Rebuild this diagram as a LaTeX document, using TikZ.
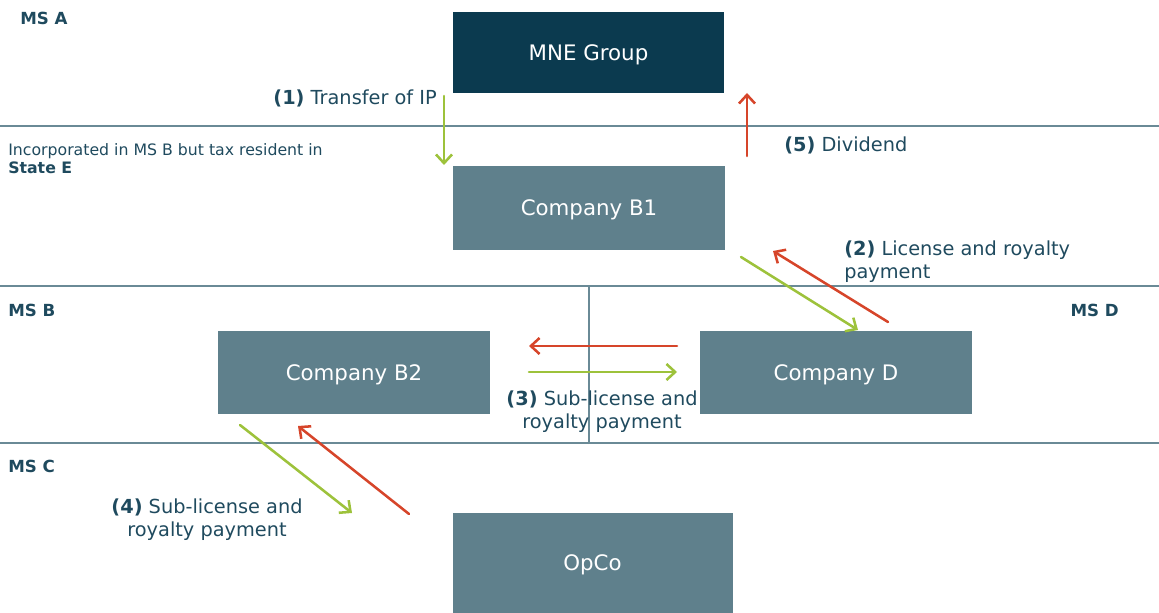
\documentclass[tikz,border=0pt]{standalone}
\usepackage{fontspec}
\setmainfont{DejaVu Sans}
\usetikzlibrary{arrows.meta}
\definecolor{darkbox}{HTML}{0B3A4F}
\definecolor{tealbox}{HTML}{5F808C}
\definecolor{rulegray}{HTML}{6A8A96}
\definecolor{labeltext}{HTML}{1F4A5E}
\definecolor{ipgreen}{HTML}{9DC23B}
\definecolor{payred}{HTML}{D6452A}
\newcommand{\stepno}[1]{\textbf{(#1)}}
\tikzset{
  entity/.style={fill=tealbox, text=white, inner sep=0pt, text depth=0pt, font=\fontsize{16}{19}\selectfont},
  country/.style={text=labeltext, font=\bfseries\fontsize{12.5}{15}\selectfont, inner sep=0pt},
  flowtext/.style={text=labeltext, font=\fontsize{14.5}{17.2}\selectfont, inner sep=0pt, align=center},
  border/.style={rulegray, line width=1.5pt},
  flow/.style={line width=1.9pt, -{Straight Barb[length=6.5pt,width=12pt,line width=1.9pt]}}
}

\begin{document}
\begin{tikzpicture}[line cap=round,line join=round,x=0.75pt,y=-0.75pt]
    \useasboundingbox (0,0) rectangle (1159,613);
    % boundaries of the states
    \draw[border] (0,126) -- (1159,126);
    \draw[border] (0,286) -- (1159,286);
    \draw[border] (0,443) -- (1159,443);
    \draw[border] (589,286) -- (589,443);

    % entities
    \node[entity, fill=darkbox, minimum width=203pt, minimum height=61pt] (MNE) at (588.5,52.5) {MNE Group};
    \node[entity, minimum width=204pt, minimum height=63pt] (B1) at (589,208) {Company B1};
    \node[entity, minimum width=204pt, minimum height=62pt] (B2) at (354,372.5) {Company B2};
    \node[entity, minimum width=204pt, minimum height=62pt] (D) at (836,372.5) {Company D};
    \node[entity, minimum width=210pt, minimum height=75pt] (OpCo) at (592.5,563) {OpCo};

    % state labels
    \node[country, anchor=west] (MSA) at (20,18) {MS A};
    \node[country, anchor=west] (MSB) at (8,310) {MS B};
    \node[country, anchor=west] (MSC) at (8,466) {MS C};
    \node[country, anchor=east] (MSD) at (1119,310) {MS D};
    \node[text=labeltext, anchor=north west, align=left, inner sep=0pt,
          font=\fontsize{11.8}{14}\selectfont] (resid) at (8,143)
          {Incorporated in MS B but tax resident in\\\textbf{State E}};

    % flow labels
    \node[flowtext, anchor=east] (L1) at (437,98) {\stepno{1} Transfer of IP};
    \node[flowtext, anchor=west] (L5) at (784,145) {\stepno{5} Dividend};
    \node[flowtext, anchor=north west, align=left] (L2) at (844,241) {\stepno{2} License and royalty\\payment};
    \node[flowtext, anchor=north] (L3) at (602,391) {\stepno{3} Sub-license and\\royalty payment};
    \node[flowtext, anchor=north] (L4) at (207,499) {\stepno{4} Sub-license and\\royalty payment};

    % arrow ends
    \coordinate (a1) at (444,96);   \coordinate (b1) at (444,165);
    \coordinate (a5) at (747,156);  \coordinate (b5) at (747,93);
    \coordinate (a2) at (741,257);  \coordinate (b2) at (858,330);
    \coordinate (c2) at (888,322);  \coordinate (d2) at (773,251);
    \coordinate (c3) at (677,346);  \coordinate (d3) at (529,346);
    \coordinate (a3) at (529,372);  \coordinate (b3) at (677,372);
    \coordinate (a4) at (240,425);  \coordinate (b4) at (352,513);
    \coordinate (c4) at (409,514);  \coordinate (d4) at (298,426);

    % flows
    \foreach \source/\target/\col in {a1/b1/ipgreen, a5/b5/payred, a2/b2/ipgreen, c2/d2/payred,
                                      c3/d3/payred, a3/b3/ipgreen, a4/b4/ipgreen, c4/d4/payred} {
            \draw[flow, \col] (\source) -- (\target);
        }
\end{tikzpicture}
\end{document}
